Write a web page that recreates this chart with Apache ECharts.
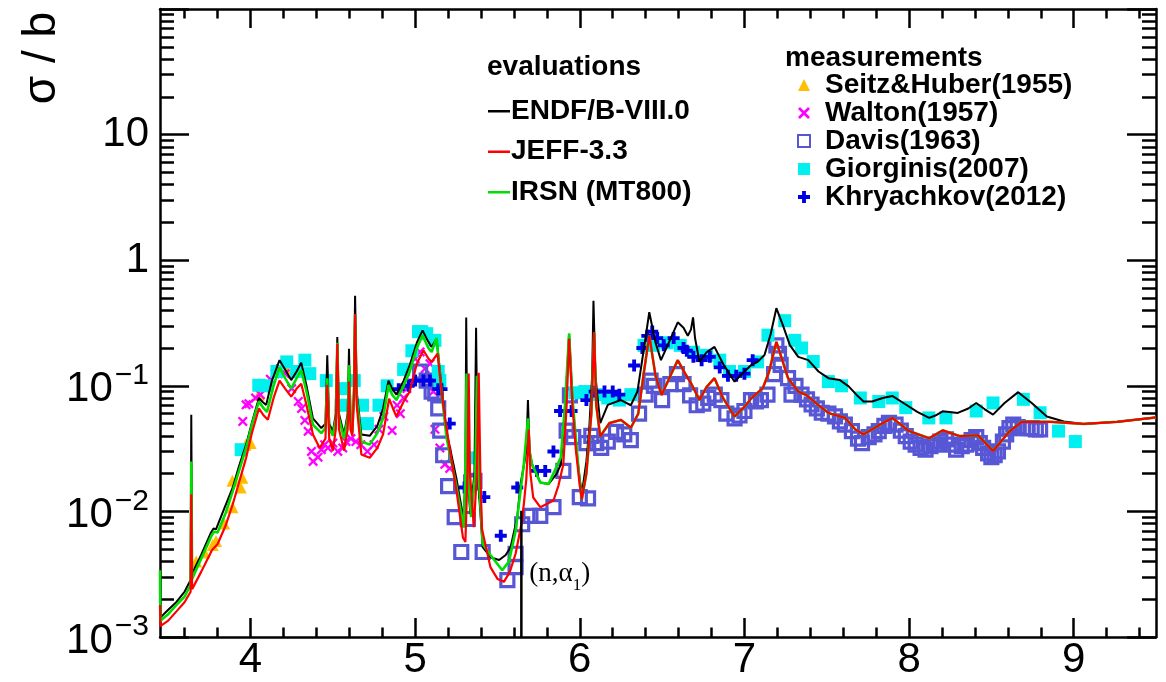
<!DOCTYPE html>
<html>
<head>
<meta charset="utf-8">
<title>sigma(n,alpha)</title>
<script src="https://cdn.jsdelivr.net/npm/echarts@6/dist/echarts.min.js"></script>
<style>
  html, body { margin: 0; padding: 0; background: #fff; }
  #main { width: 1166px; height: 682px; }
</style>
</head>
<body>
<div id="main"></div>
<script>
// ---- axes / ticks ----
var xMin = 3.45, xMax = 9.5;
var xMajor = [4, 5, 6, 7, 8, 9];
var xMinor = [3.6, 3.8, 4.2, 4.4, 4.6, 4.8, 5.2, 5.4, 5.6, 5.8, 6.2, 6.4, 6.6, 6.8,
              7.2, 7.4, 7.6, 7.8, 8.2, 8.4, 8.6, 8.8, 9.2, 9.4];
var yDecades = [-3, -2, -1, 0, 1, 2];
var yMinorMult = [2, 3, 4, 5, 6, 7, 8, 9];

// ---- evaluations [E (MeV), sigma (b)] ----
var endf = [
  [3.450, 0.00142], [3.50, 0.00165], [3.55, 0.0019], [3.60, 0.0023], [3.636, 0.00284],
  [3.640, 0.0588], [3.645, 0.0032], [3.70, 0.0045], [3.76, 0.0068], [3.775, 0.0073],
  [3.79, 0.0072], [3.84, 0.0105], [3.892, 0.0155], [3.93, 0.023], [3.973, 0.034],
  [4.01, 0.052], [4.051, 0.08], [4.075, 0.074], [4.095, 0.0705], [4.13, 0.11],
  [4.176, 0.16], [4.21, 0.135], [4.247, 0.111], [4.28, 0.13], [4.308, 0.153],
  [4.34, 0.10], [4.379, 0.055], [4.43, 0.046], [4.455, 0.05], [4.466, 0.175],
  [4.478, 0.05], [4.50, 0.0434], [4.518, 0.06], [4.527, 0.244], [4.537, 0.06],
  [4.568, 0.041], [4.59, 0.06], [4.598, 0.197], [4.607, 0.06], [4.618, 0.043],
  [4.628, 0.09], [4.635, 0.52], [4.645, 0.09], [4.673, 0.041], [4.724, 0.040],
  [4.77, 0.048], [4.805, 0.066], [4.838, 0.11], [4.86, 0.095], [4.886, 0.085],
  [4.93, 0.11], [4.967, 0.146], [5.01, 0.22], [5.045, 0.276], [5.075, 0.23],
  [5.10, 0.204], [5.13, 0.237], [5.16, 0.10], [5.19, 0.0434], [5.25, 0.0185],
  [5.295, 0.0085], [5.305, 0.02], [5.31, 0.35], [5.318, 0.02], [5.335, 0.0095],
  [5.36, 0.02], [5.37, 0.29], [5.38, 0.02], [5.41, 0.0052], [5.46, 0.0043],
  [5.51, 0.0041], [5.55, 0.0045], [5.58, 0.0052], [5.62, 0.009], [5.64, 0.0165],
  [5.675, 0.03], [5.685, 0.077], [5.695, 0.03], [5.71, 0.0237], [5.76, 0.017],
  [5.81, 0.0165], [5.86, 0.02], [5.885, 0.0237], [5.91, 0.06], [5.935, 0.26],
  [5.955, 0.08], [5.98, 0.030], [6.00, 0.018], [6.012, 0.0137], [6.04, 0.025],
  [6.057, 0.045], [6.075, 0.12], [6.083, 0.475], [6.095, 0.12], [6.124, 0.0505],
  [6.17, 0.0705], [6.25, 0.077], [6.31, 0.07], [6.35, 0.09], [6.39, 0.20],
  [6.422, 0.385], [6.46, 0.22], [6.493, 0.16], [6.54, 0.22], [6.595, 0.32],
  [6.63, 0.29], [6.656, 0.25], [6.675, 0.28], [6.688, 0.35], [6.70, 0.24],
  [6.727, 0.155], [6.77, 0.185], [6.818, 0.204], [6.87, 0.15], [6.94, 0.108],
  [7.00, 0.13], [7.04, 0.146], [7.08, 0.155], [7.122, 0.176], [7.16, 0.26],
  [7.194, 0.415], [7.235, 0.30], [7.276, 0.211], [7.327, 0.17], [7.388, 0.16],
  [7.45, 0.13], [7.51, 0.115], [7.58, 0.111], [7.633, 0.099], [7.68, 0.085],
  [7.724, 0.075], [7.776, 0.075], [7.84, 0.08], [7.898, 0.083], [7.98, 0.071],
  [8.05, 0.062], [8.122, 0.0555], [8.16, 0.058], [8.204, 0.0627], [8.296, 0.0608],
  [8.36, 0.066], [8.408, 0.073], [8.46, 0.065], [8.51, 0.059], [8.58, 0.073],
  [8.663, 0.089], [8.745, 0.073], [8.837, 0.057], [8.94, 0.052], [9.06, 0.0497],
  [9.265, 0.0517], [9.50, 0.056]
];
var jeff = [
  [3.450, 0.0018], [3.452, 0.00122], [3.50, 0.00135], [3.55, 0.0016], [3.60, 0.0019],
  [3.636, 0.00229], [3.640, 0.0137], [3.645, 0.0024], [3.70, 0.0033], [3.755, 0.0046],
  [3.765, 0.0049], [3.80, 0.0055], [3.85, 0.0078], [3.892, 0.0114], [3.93, 0.017],
  [3.973, 0.0267], [4.01, 0.043], [4.051, 0.066], [4.08, 0.058], [4.105, 0.0537],
  [4.14, 0.08], [4.176, 0.11], [4.21, 0.095], [4.247, 0.082], [4.28, 0.095],
  [4.308, 0.104], [4.34, 0.07], [4.379, 0.041], [4.42, 0.032], [4.455, 0.038],
  [4.466, 0.102], [4.478, 0.038], [4.50, 0.0305], [4.518, 0.045], [4.527, 0.216],
  [4.537, 0.045], [4.568, 0.0305], [4.59, 0.045], [4.598, 0.108], [4.607, 0.045],
  [4.618, 0.04], [4.628, 0.08], [4.635, 0.373], [4.645, 0.07], [4.673, 0.0284],
  [4.724, 0.0267], [4.77, 0.032], [4.805, 0.041], [4.842, 0.079], [4.865, 0.066],
  [4.886, 0.057], [4.93, 0.075], [4.967, 0.09], [5.01, 0.15], [5.05, 0.192],
  [5.08, 0.165], [5.10, 0.155], [5.136, 0.18], [5.165, 0.08], [5.193, 0.0434],
  [5.254, 0.0137], [5.29, 0.0062], [5.305, 0.0057], [5.318, 0.02], [5.325, 0.125],
  [5.333, 0.02], [5.356, 0.0075], [5.375, 0.02], [5.386, 0.127], [5.396, 0.02],
  [5.406, 0.0072], [5.457, 0.0036], [5.50, 0.0029], [5.539, 0.00275], [5.575, 0.0033],
  [5.61, 0.0046], [5.65, 0.0085], [5.675, 0.018], [5.69, 0.0448], [5.70, 0.02],
  [5.717, 0.0129], [5.76, 0.0108], [5.84, 0.0122], [5.87, 0.016], [5.90, 0.0237],
  [5.92, 0.07], [5.935, 0.237], [5.955, 0.07], [5.976, 0.031], [6.00, 0.016],
  [6.012, 0.0125], [6.04, 0.02], [6.07, 0.06], [6.087, 0.267], [6.10, 0.07],
  [6.124, 0.0396], [6.18, 0.0505], [6.25, 0.0535], [6.31, 0.0464], [6.355, 0.06],
  [6.39, 0.13], [6.422, 0.252], [6.46, 0.12], [6.497, 0.0846], [6.55, 0.12],
  [6.595, 0.16], [6.64, 0.125], [6.677, 0.104], [6.727, 0.077], [6.77, 0.098],
  [6.818, 0.115], [6.87, 0.08], [6.94, 0.057], [7.00, 0.068], [7.04, 0.079],
  [7.112, 0.096], [7.15, 0.13], [7.194, 0.224], [7.23, 0.16], [7.265, 0.115],
  [7.327, 0.09], [7.378, 0.084], [7.45, 0.07], [7.51, 0.0608], [7.612, 0.0555],
  [7.673, 0.045], [7.724, 0.041], [7.81, 0.048], [7.898, 0.0555], [8.00, 0.0436],
  [8.122, 0.0382], [8.204, 0.0442], [8.306, 0.0398], [8.418, 0.0404], [8.51, 0.0303],
  [8.612, 0.0436], [8.684, 0.0517], [8.857, 0.0517], [9.06, 0.0497], [9.265, 0.0517],
  [9.50, 0.056]
];
// IRSN below 6 MeV; above that it lies under the JEFF curve
var irsnLow = [
  [3.450, 0.0034], [3.452, 0.00135], [3.50, 0.00152], [3.55, 0.0018], [3.60, 0.0021],
  [3.636, 0.0026], [3.640, 0.025], [3.645, 0.0029], [3.70, 0.0042], [3.765, 0.0065],
  [3.78, 0.0069], [3.80, 0.0068], [3.85, 0.0098], [3.892, 0.0145], [3.93, 0.021],
  [3.973, 0.032], [4.01, 0.05], [4.051, 0.075], [4.08, 0.066], [4.10, 0.062],
  [4.14, 0.10], [4.176, 0.14], [4.21, 0.115], [4.247, 0.095], [4.28, 0.115],
  [4.308, 0.133], [4.34, 0.09], [4.379, 0.049], [4.43, 0.042], [4.455, 0.046],
  [4.466, 0.115], [4.478, 0.046], [4.50, 0.04], [4.518, 0.055], [4.527, 0.22],
  [4.537, 0.055], [4.568, 0.038], [4.59, 0.055], [4.598, 0.146], [4.607, 0.055],
  [4.618, 0.042], [4.628, 0.085], [4.635, 0.37], [4.645, 0.08], [4.673, 0.036],
  [4.724, 0.034], [4.77, 0.042], [4.805, 0.055], [4.838, 0.101], [4.86, 0.085],
  [4.886, 0.077], [4.93, 0.10], [4.967, 0.13], [5.01, 0.20], [5.045, 0.252],
  [5.08, 0.20], [5.10, 0.186], [5.13, 0.24], [5.16, 0.09], [5.19, 0.039],
  [5.25, 0.016], [5.295, 0.0074], [5.305, 0.02], [5.312, 0.125], [5.32, 0.02],
  [5.34, 0.009], [5.365, 0.02], [5.375, 0.12], [5.385, 0.02], [5.41, 0.0055],
  [5.457, 0.0045], [5.529, 0.0034], [5.57, 0.004], [5.61, 0.007], [5.66, 0.0237],
  [5.685, 0.055], [5.695, 0.03], [5.71, 0.0237], [5.76, 0.017], [5.81, 0.0165],
  [5.885, 0.027], [5.91, 0.07], [5.935, 0.26], [5.955, 0.08], [5.98, 0.033],
  [6.00, 0.017]
];

// ---- measurements ----
var seitz = [
  [3.67, 0.0040], [3.72, 0.0047], [3.77, 0.0054], [3.79, 0.0058], [3.84, 0.0080],
  [3.89, 0.0108], [3.89, 0.0175], [3.94, 0.0155], [3.95, 0.0185], [3.97, 0.034],
  [4.00, 0.035], [4.05, 0.085], [4.22, 0.137]
];
var walton = [
  [3.953, 0.052], [3.973, 0.0705], [3.99, 0.072], [4.03, 0.08], [4.06, 0.085],
  [4.09, 0.095], [4.12, 0.113], [4.15, 0.125], [4.18, 0.137], [4.21, 0.125],
  [4.25, 0.095], [4.29, 0.075], [4.31, 0.066], [4.33, 0.053], [4.35, 0.0434],
  [4.37, 0.030], [4.38, 0.025], [4.41, 0.027], [4.43, 0.031], [4.45, 0.034],
  [4.47, 0.032], [4.50, 0.035], [4.53, 0.030], [4.56, 0.032], [4.58, 0.036],
  [4.61, 0.038], [4.64, 0.036], [4.67, 0.034], [4.71, 0.030], [4.75, 0.034],
  [4.78, 0.045], [4.81, 0.057], [4.86, 0.044], [4.89, 0.07], [4.91, 0.06],
  [4.93, 0.08], [4.95, 0.095], [4.97, 0.108], [5.00, 0.164], [5.03, 0.186],
  [5.06, 0.137], [5.09, 0.15], [5.11, 0.09], [5.12, 0.045], [5.15, 0.032],
  [5.18, 0.0237], [5.21, 0.022]
];
var davis = [
  [5.03, 0.13], [5.07, 0.11], [5.10, 0.09], [5.122, 0.087], [5.14, 0.066],
  [5.152, 0.044], [5.17, 0.028], [5.20, 0.0159], [5.24, 0.009], [5.28, 0.00475],
  [5.32, 0.0087], [5.34, 0.017], [5.36, 0.0175], [5.41, 0.00475], [5.56, 0.00284],
  [5.61, 0.0036], [5.61, 0.0046], [5.65, 0.0079], [5.70, 0.0092], [5.76, 0.0092],
  [5.84, 0.0108], [5.90, 0.021], [5.92, 0.044], [5.94, 0.084], [5.96, 0.039],
  [6.00, 0.013], [6.05, 0.0127], [6.04, 0.035], [6.07, 0.04], [6.10, 0.035],
  [6.13, 0.032], [6.17, 0.036], [6.22, 0.043], [6.27, 0.041], [6.31, 0.037],
  [6.36, 0.06], [6.40, 0.085], [6.43, 0.11], [6.45, 0.10], [6.50, 0.077],
  [6.55, 0.103], [6.59, 0.124], [6.63, 0.103], [6.67, 0.084], [6.71, 0.07],
  [6.75, 0.072], [6.78, 0.08], [6.82, 0.085], [6.86, 0.077], [6.89, 0.06],
  [6.94, 0.055], [6.97, 0.058], [7.00, 0.063], [7.04, 0.077], [7.07, 0.075],
  [7.10, 0.077], [7.14, 0.085], [7.18, 0.124], [7.194, 0.21], [7.21, 0.18],
  [7.22, 0.147], [7.265, 0.115], [7.286, 0.085], [7.31, 0.10], [7.347, 0.085],
  [7.38, 0.078], [7.408, 0.071], [7.44, 0.066], [7.47, 0.061], [7.51, 0.06],
  [7.55, 0.057], [7.58, 0.052], [7.61, 0.049], [7.653, 0.0436], [7.69, 0.038],
  [7.714, 0.035], [7.755, 0.039], [7.79, 0.041], [7.816, 0.0436], [7.85, 0.048],
  [7.878, 0.0507], [7.918, 0.049], [7.95, 0.044], [7.98, 0.0398], [8.01, 0.036],
  [8.04, 0.034], [8.07, 0.032], [8.10, 0.031], [8.13, 0.033], [8.163, 0.034],
  [8.19, 0.036], [8.224, 0.0375], [8.26, 0.034], [8.286, 0.031], [8.32, 0.033],
  [8.347, 0.034], [8.38, 0.037], [8.408, 0.039], [8.43, 0.035], [8.45, 0.032],
  [8.48, 0.029], [8.50, 0.027], [8.52, 0.028], [8.54, 0.030], [8.57, 0.036],
  [8.59, 0.041], [8.61, 0.046], [8.633, 0.049], [8.66, 0.047], [8.694, 0.046],
  [8.72, 0.046], [8.745, 0.046], [8.77, 0.045], [8.796, 0.045]
];
var giorginis = [
  [3.943, 0.031], [4.05, 0.101], [4.10, 0.10], [4.16, 0.13], [4.22, 0.155],
  [4.28, 0.13], [4.33, 0.16], [4.36, 0.125], [4.46, 0.11], [4.55, 0.07],
  [4.57, 0.095], [4.63, 0.11], [4.68, 0.07], [4.71, 0.05], [4.78, 0.07],
  [4.83, 0.10], [4.93, 0.135], [4.98, 0.19], [5.02, 0.27], [5.04, 0.27],
  [5.07, 0.26], [5.12, 0.23], [5.14, 0.13], [5.15, 0.11], [5.355, 0.0267],
  [5.97, 0.088], [6.03, 0.09], [6.10, 0.085], [6.17, 0.08], [6.24, 0.077],
  [6.31, 0.085], [6.39, 0.21], [6.45, 0.21], [6.53, 0.22], [6.61, 0.21],
  [6.69, 0.185], [6.77, 0.175], [6.85, 0.16], [6.91, 0.13], [7.00, 0.13],
  [7.08, 0.155], [7.143, 0.253], [7.245, 0.33], [7.306, 0.23], [7.347, 0.20],
  [7.418, 0.156], [7.51, 0.108], [7.59, 0.10], [7.704, 0.08], [7.816, 0.075],
  [7.898, 0.08], [7.98, 0.067], [8.12, 0.0555], [8.224, 0.0555], [8.408, 0.063],
  [8.51, 0.073], [8.694, 0.078], [8.796, 0.061], [8.908, 0.0436], [9.01, 0.036]
];
var khryachkov = [
  [4.90, 0.094], [4.96, 0.10], [5.00, 0.11], [5.05, 0.11], [5.09, 0.11],
  [5.14, 0.094], [5.16, 0.094], [5.21, 0.05], [5.30, 0.0155], [5.42, 0.013],
  [5.52, 0.0064], [5.62, 0.0155], [5.74, 0.021], [5.79, 0.021], [5.84, 0.030],
  [5.88, 0.063], [5.95, 0.063], [6.04, 0.077], [6.09, 0.09], [6.15, 0.09],
  [6.20, 0.09], [6.24, 0.085], [6.33, 0.145], [6.38, 0.20], [6.41, 0.25],
  [6.44, 0.27], [6.47, 0.24], [6.51, 0.21], [6.57, 0.24], [6.63, 0.20],
  [6.65, 0.19], [6.69, 0.17], [6.74, 0.16], [6.79, 0.17], [6.85, 0.14],
  [6.90, 0.12], [6.95, 0.12], [7.00, 0.125], [7.05, 0.16]
];

// (n,alpha1) threshold marker
var alpha1Threshold = 5.645;
var thresholdTop = 0.0101;
var thresholdLabelAt = 0.003;

var evalNames = ['ENDF/B-VIII.0', 'JEFF-3.3', 'IRSN (MT800)'];
var measNames = ['Seitz&Huber(1955)', 'Walton(1957)', 'Davis(1963)', 'Giorginis(2007)', 'Khryachkov(2012)'];

var FONT = '"Liberation Sans", Arial, Helvetica, sans-serif';
var SERIF = '"Liberation Serif", "Times New Roman", serif';
var irsn = irsnLow.concat(jeff.filter(function (p) { return p[0] > 6.0; }));

var yMinorLog = [];
yDecades.forEach(function (d) {
  if (d >= 2) return;
  yMinorMult.forEach(function (m) { yMinorLog.push(d + Math.log10(m)); });
});

var PLUS = 'path://M3.4,0H6.6V3.4H10V6.6H6.6V10H3.4V6.6H0V3.4H3.4Z';
var CROSS = 'path://M1.6,0L5,3.4L8.4,0L10,1.6L6.6,5L10,8.4L8.4,10L5,6.6L1.6,10L0,8.4L3.4,5L0,1.6Z';

function tickAxis(pos, vals, len, showLine, lim) {
  return {
    type: 'value', position: pos, min: lim[0], max: lim[1],
    axisLine: { show: showLine, onZero: false, lineStyle: { color: '#000', width: 2.5 } },
    axisTick: { show: true, inside: true, length: len, customValues: vals,
                lineStyle: { color: '#000', width: 2.5 } },
    axisLabel: { show: false },
    splitLine: { show: false }
  };
}

var chart = echarts.init(document.getElementById('main'), null, { renderer: 'canvas' });

var option = {
  animation: false,
  backgroundColor: '#fff',
  grid: { left: 160, right: 10, top: 9, bottom: 45, containLabel: false },
  xAxis: [
    {
      type: 'value', position: 'bottom', min: xMin, max: xMax,
      axisLine: { show: true, onZero: false, lineStyle: { color: '#000', width: 2.5 } },
      axisTick: { show: true, inside: true, length: 19, customValues: xMajor,
                  lineStyle: { color: '#000', width: 2.5 } },
      axisLabel: { customValues: xMajor, color: '#000', fontSize: 42, fontFamily: FONT, margin: 2 },
      splitLine: { show: false }
    },
    tickAxis('bottom', xMinor, 9.5, false, [xMin, xMax]),
    tickAxis('top', xMajor, 19, true, [xMin, xMax]),
    tickAxis('top', xMinor, 9.5, false, [xMin, xMax])
  ],
  yAxis: [
    {
      type: 'log', logBase: 10, position: 'left', min: 0.001, max: 100,
      axisLine: { show: true, onZero: false, lineStyle: { color: '#000', width: 2.5 } },
      axisTick: { show: true, inside: true, length: 29, lineStyle: { color: '#000', width: 2.5 } },
      axisLabel: {
        margin: 11, color: '#000', fontFamily: FONT,
        formatter: function (v) {
          var e = Math.round(Math.log10(v));
          if (e === 0) return '{b|1}';
          if (e === 1) return '{b|10}';
          if (e >= 2) return '';
          return '{b|10}{e|\u2212' + (-e) + '}';
        },
        rich: {
          b: { fontSize: 42, fontFamily: FONT, color: '#000', verticalAlign: 'bottom' },
          e: { fontSize: 30, fontFamily: FONT, color: '#000', verticalAlign: 'top', padding: [0, 0, 20, 2] }
        }
      },
      splitLine: { show: false }
    },
    tickAxis('left', yMinorLog, 14, false, [-3, 2]),
    tickAxis('right', yDecades, 29, true, [-3, 2]),
    tickAxis('right', yMinorLog, 14, false, [-3, 2])
  ],
  legend: [
    {
      data: evalNames.map(function (n) { return { name: n, icon: 'rect' }; }),
      orient: 'vertical', left: 488, top: 91, padding: 0,
      itemWidth: 22, itemHeight: 2.5, itemGap: 0, selectedMode: false,
      textStyle: { fontSize: 28, fontWeight: 'bold', fontFamily: FONT, color: '#000', lineHeight: 40.5,
                   padding: [0, 0, 0, -4] }
    },
    {
      data: measNames, orient: 'vertical', left: 797, top: 71, padding: 0,
      itemWidth: 12, itemHeight: 12, itemGap: 0, selectedMode: false,
      textStyle: { fontSize: 28, fontWeight: 'bold', fontFamily: FONT, color: '#000', lineHeight: 27.6,
                   padding: [0, 0, 0, 10] }
    }
  ],
  graphic: [
    { type: 'text', x: 42, y: 58, rotation: Math.PI / 2,
      style: { text: '\u03c3 / b', font: '46px ' + FONT, fill: '#000', textAlign: 'center', textVerticalAlign: 'middle' } },
    { type: 'text', x: 487, y: 67,
      style: { text: 'evaluations', font: 'bold 28px ' + FONT, fill: '#000', textAlign: 'left', textVerticalAlign: 'middle' } },
    { type: 'text', x: 785, y: 58,
      style: { text: 'measurements', font: 'bold 28px ' + FONT, fill: '#000', textAlign: 'left', textVerticalAlign: 'middle' } }
  ],
  series: [
    { name: measNames[0], type: 'scatter', data: seitz, symbol: 'triangle', symbolSize: 12,
      itemStyle: { color: '#ffbf00', opacity: 1 } },
    { name: measNames[1], type: 'scatter', data: walton, symbol: CROSS, symbolSize: 10,
      itemStyle: { color: '#ff00ff', opacity: 1 } },
    { name: measNames[2], type: 'scatter', data: davis, symbol: 'rect', symbolSize: 13,
      itemStyle: { color: 'rgba(255,255,255,0)', borderColor: '#5757d6', borderWidth: 3.2, opacity: 1 } },
    { name: measNames[3], type: 'scatter', data: giorginis, symbol: 'rect', symbolSize: 13,
      itemStyle: { color: '#00f0f0', opacity: 1 } },
    { name: measNames[4], type: 'scatter', data: khryachkov, symbol: PLUS, symbolSize: 12,
      itemStyle: { color: '#0000e6', opacity: 1 } },
    { name: evalNames[0], type: 'line', data: endf, symbol: 'none', showSymbol: false,
      lineStyle: { color: '#000', width: 2 }, itemStyle: { color: '#000' } },
    { name: evalNames[2], type: 'line', data: irsn, symbol: 'none', showSymbol: false,
      lineStyle: { color: '#00dd00', width: 2.6 }, itemStyle: { color: '#00dd00' } },
    { name: evalNames[1], type: 'line', data: jeff, symbol: 'none', showSymbol: false,
      lineStyle: { color: '#ff0000', width: 2.2 }, itemStyle: { color: '#ff0000' } },
    { name: 'threshold', type: 'line', data: [[alpha1Threshold, 0.001], [alpha1Threshold, thresholdTop]],
      symbol: 'none', lineStyle: { color: '#000', width: 2.5 }, z: 3 },
    { name: 'thresholdLabel', type: 'scatter', data: [[alpha1Threshold, thresholdLabelAt]],
      symbolSize: 0, silent: true, itemStyle: { opacity: 1 },
      label: {
        show: true, position: 'right', distance: 8, opacity: 1,
        formatter: '{p|(n,\u03b1}{s|1}{p|)}',
        rich: {
          p: { fontSize: 27, fontFamily: SERIF, color: '#000', verticalAlign: 'bottom', padding: [0, 0, 7, 0] },
          s: { fontSize: 17, fontFamily: SERIF, color: '#000', verticalAlign: 'bottom' }
        }
      } }
  ]
};

chart.setOption(option);
</script>
</body>
</html>
